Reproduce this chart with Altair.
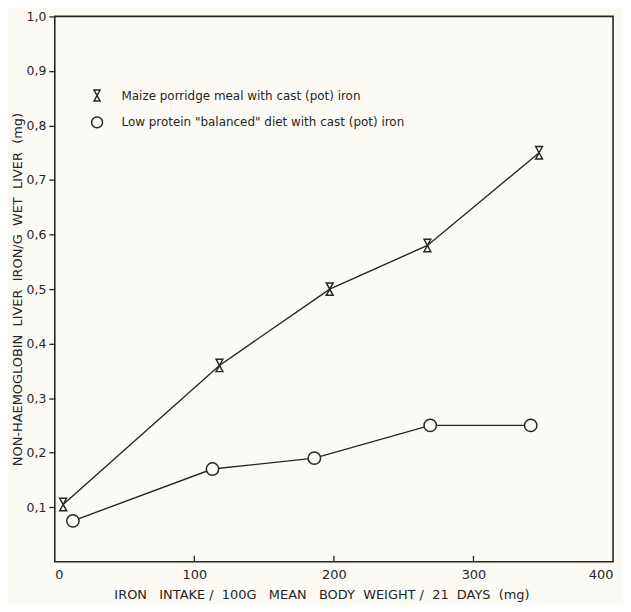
import altair as alt
import pandas as pd

# ---- data ----
maize_label = "Maize porridge meal with cast (pot) iron"
lp_label = 'Low protein "balanced" diet with cast (pot) iron'

maize_x = [6, 118, 197, 267, 347]
maize_y = [0.105, 0.36, 0.50, 0.58, 0.75]

lp_x = [13, 113, 186, 269, 341]
lp_y = [0.075, 0.17, 0.19, 0.25, 0.25]

x_tick_labels = [0, 100, 200, 300, 400]
x_inner_ticks = [100, 200, 300]
y_tick_values = [0.1, 0.2, 0.3, 0.4, 0.5, 0.6, 0.7, 0.8, 0.9, 1.0]

NB = "\u00a0"
x_title = (
    f"IRON{NB*3}INTAKE{NB}/{NB*2}100G{NB*3}MEAN{NB*3}BODY{NB*2}WEIGHT{NB}/"
    f"{NB*2}21{NB*2}DAYS{NB*2}(mg)"
)
y_title = (
    f"NON-HAEMOGLOBIN{NB*2}LIVER{NB*2}IRON/G{NB*2}WET{NB*2}LIVER{NB*2}(mg)"
)

# ---- styling ----
BG = "#fbfaf5"
INK = "#262626"
FONT = "DejaVu Sans"
PW, PH = 561, 548
HOURGLASS = "M-0.55,-1L0.55,-1L-0.55,1L0.55,1Z"

df = pd.DataFrame(
    {
        "x": maize_x + lp_x,
        "y": maize_y + lp_y,
        "series": [maize_label] * len(maize_x) + [lp_label] * len(lp_x),
    }
)
ticks_df = pd.DataFrame({"t": x_inner_ticks})

xscale = alt.Scale(domain=[0, 400], nice=False, zero=False)
yscale = alt.Scale(domain=[0, 1], nice=False, zero=False)

xaxis = alt.Axis(
    values=x_tick_labels,
    tickSize=0,
    domain=False,
    grid=False,
    labelPadding=7,
    labelFontSize=13,
    labelFont=FONT,
    labelColor=INK,
    title=x_title,
    titleFont=FONT,
    titleFontSize=13,
    titleFontWeight="normal",
    titleColor=INK,
    titlePadding=7,
    titleX=268,
)
yaxis = alt.Axis(
    values=y_tick_values,
    labelExpr="replace(format(datum.value, '.1f'), '.', ',')",
    tickSize=6,
    tickColor=INK,
    tickWidth=1.3,
    domain=False,
    grid=False,
    labelPadding=3,
    labelFontSize=12.5,
    labelFont=FONT,
    labelColor=INK,
    title=y_title,
    titleFont=FONT,
    titleFontSize=13,
    titleFontWeight="normal",
    titleColor=INK,
    titlePadding=2,
)

base = alt.Chart(df)

lines = base.mark_line(color=INK, strokeWidth=1.4).encode(
    x=alt.X("x:Q", scale=xscale, axis=xaxis),
    y=alt.Y("y:Q", scale=yscale, axis=yaxis),
    detail="series:N",
)

# background-filled bodies so lines stop at the marker edges
maize_fill = base.transform_filter(alt.datum.series == maize_label).mark_point(
    shape=HOURGLASS, filled=True, color=BG, size=155, opacity=1
).encode(x=alt.X("x:Q", scale=xscale), y=alt.Y("y:Q", scale=yscale))
lp_fill = base.transform_filter(alt.datum.series == lp_label).mark_point(
    shape="circle", filled=True, color=BG, size=155, opacity=1
).encode(x=alt.X("x:Q", scale=xscale), y=alt.Y("y:Q", scale=yscale))

outlines = base.mark_point(
    filled=False, color=INK, strokeWidth=1.5, opacity=1, size=155
).encode(
    x=alt.X("x:Q", scale=xscale),
    y=alt.Y("y:Q", scale=yscale),
    shape=alt.Shape(
        "series:N",
        scale=alt.Scale(domain=[maize_label, lp_label], range=[HOURGLASS, "circle"]),
        legend=alt.Legend(
            title=None,
            orient="none",
            legendX=36,
            legendY=73,
            symbolStrokeColor=INK,
            symbolStrokeWidth=1.5,
            symbolSize=120,
            labelFont=FONT,
            labelFontSize=12,
            labelColor=INK,
            labelLimit=0,
            labelOffset=18,
            rowPadding=10,
        ),
    ),
)

inner_ticks = alt.Chart(ticks_df).mark_rule(color=INK, strokeWidth=1.3).encode(
    x=alt.X("t:Q", scale=xscale),
    y=alt.value(PH),
    y2=alt.value(PH - 6),
)

chart = (
    alt.layer(lines, inner_ticks, maize_fill, lp_fill, outlines)
    .properties(
        width=PW,
        height=PH,
        autosize=alt.AutoSizeParams(type="none"),
        padding={"left": 47, "top": 7, "right": 10, "bottom": 41},
        background=BG,
    )
    .configure_view(stroke=INK, strokeWidth=1.6)
)

chart.save("out.html", embed_options={"renderer": "svg", "actions": False})
